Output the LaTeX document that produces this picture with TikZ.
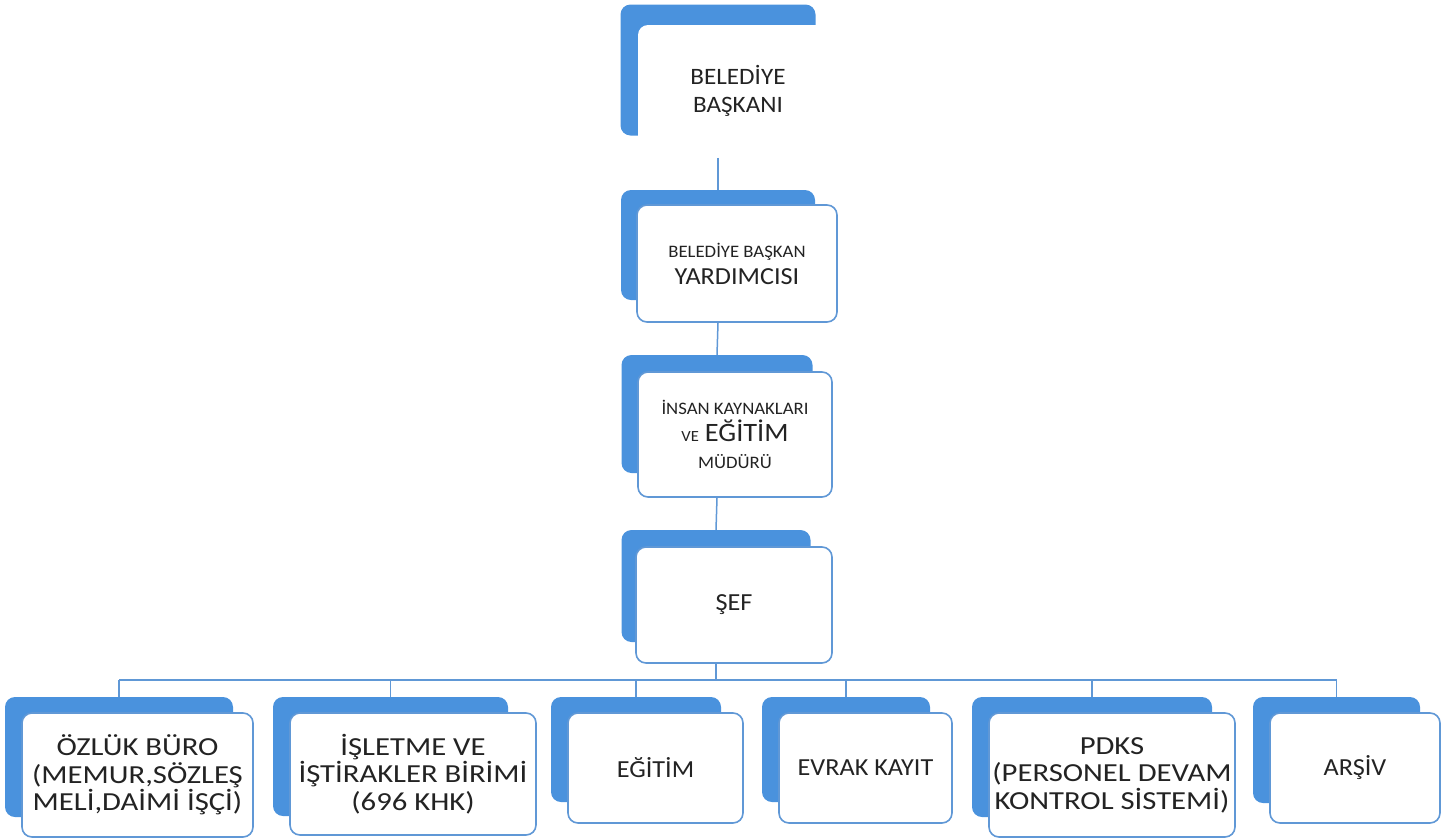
\documentclass[tikz,border=0pt]{standalone}
\usepackage{fontspec}
\setmainfont{Carlito}[FakeStretch=1.07]
\newfontfamily\widefont{Carlito}[FakeStretch=1.18]
\usetikzlibrary{positioning}

\definecolor{backblue}{RGB}{74,146,221}
\definecolor{lineblue}{RGB}{96,152,214}
\definecolor{txtgray}{RGB}{35,35,35}

\newcommand{\txtbig}{\fontsize{24.5}{27}\selectfont}
\newcommand{\txttop}{\fontsize{23.5}{28}\selectfont}
\newcommand{\txtwide}{\widefont\fontsize{26}{27.5}\selectfont}
\newcommand{\txtsmall}{\fontsize{17.5}{22}\selectfont}
\newcommand{\txttiny}{\fontsize{15.5}{18}\selectfont}

\tikzset{
  backbox/.style={fill=backblue, rounded corners=10pt, inner sep=0pt},
  frontbox/.style={fill=white, draw=lineblue, line width=1.6pt, rounded corners=10pt,
    inner sep=0pt, align=center, text=txtgray, font=\txtbig},
  conn/.style={draw=lineblue, line width=1.5pt}
}

\begin{document}
\begin{tikzpicture}[x=1pt,y=-1pt]
  \useasboundingbox (0,0) rectangle (1452,839);

  % middle column
  \node[backbox, minimum width=195pt, minimum height=131pt] (baskanb) at (718,70) {};
  \node[frontbox, draw=none, font=\txttop, minimum width=200pt, minimum height=132pt] (baskan) at (738,91) {BELEDİYE\\BAŞKANI};

  \node[backbox, minimum width=194pt, minimum height=110pt] (yrdb) at (718,245) {};
  \node[frontbox, minimum width=200pt, minimum height=117pt] (yrd) at (737,263.5)
    {{\txtsmall BELEDİYE BAŞKAN}\\YARDIMCISI};

  \node[backbox, minimum width=191pt, minimum height=118pt] (ikb) at (717,414) {};
  \node[frontbox, minimum width=194pt, minimum height=125pt] (ik) at (735,434.5)
    {{\txtsmall İNSAN KAYNAKLARI}\\{\txttiny VE} {\fontsize{26.5}{27}\selectfont EĞİTİM}\\{\txtsmall MÜDÜRÜ}};

  \node[backbox, minimum width=189pt, minimum height=112pt] (sefb) at (716,586) {};
  \node[frontbox, minimum width=196pt, minimum height=116pt] (sef) at (734,605) {ŞEF};

  \draw[conn] (baskanb |- baskan.south) -- (yrdb.north);
  \draw[conn] (yrdb |- yrd.south) -- (ikb.north);
  \draw[conn] (ikb |- ik.south) -- (sefb.north);

  % bottom row
  \coordinate (bus) at (0,680);
  \foreach \n/\bx/\bw/\bh/\fw/\fh/\f/\txt in {
      ozluk/119/228/120/231/124/\txtwide/{ÖZLÜK BÜRO\\(MEMUR,SÖZLEŞ\\MELİ,DAİMİ İŞÇİ)},
      islet/390.5/235/119/246/122/\txtwide/{İŞLETME VE\\İŞTİRAKLER BİRİMİ\\(696 KHK)},
      egitim/636/170/105/175/110/\txtbig/{EĞİTİM},
      evrak/846/168/105/173/110/\txtbig/{EVRAK KAYIT},
      pdks/1092/240/120/246/124/\txtwide/{PDKS\\(PERSONEL DEVAM\\KONTROL SİSTEMİ)},
      arsiv/1336.5/167/106/170/110/\txtbig/{ARŞİV}} {
    \node[backbox, minimum width=\bw pt, minimum height=\bh pt] (\n-b) at (\bx,{697+\bh/2}) {};
    \node[frontbox, font=\f, minimum width=\fw pt, minimum height=\fh pt] (\n) at ({\bx-\bw/2+17+\fw/2},{713+\fh/2}) {\txt};
    \draw[conn] (\n-b.north) -- (\n-b |- bus);
  }
  \draw[conn] (ozluk-b |- bus) -- (arsiv-b |- bus);
  \draw[conn] (sefb |- sef.south) -- (sefb |- bus);
\end{tikzpicture}
\end{document}
